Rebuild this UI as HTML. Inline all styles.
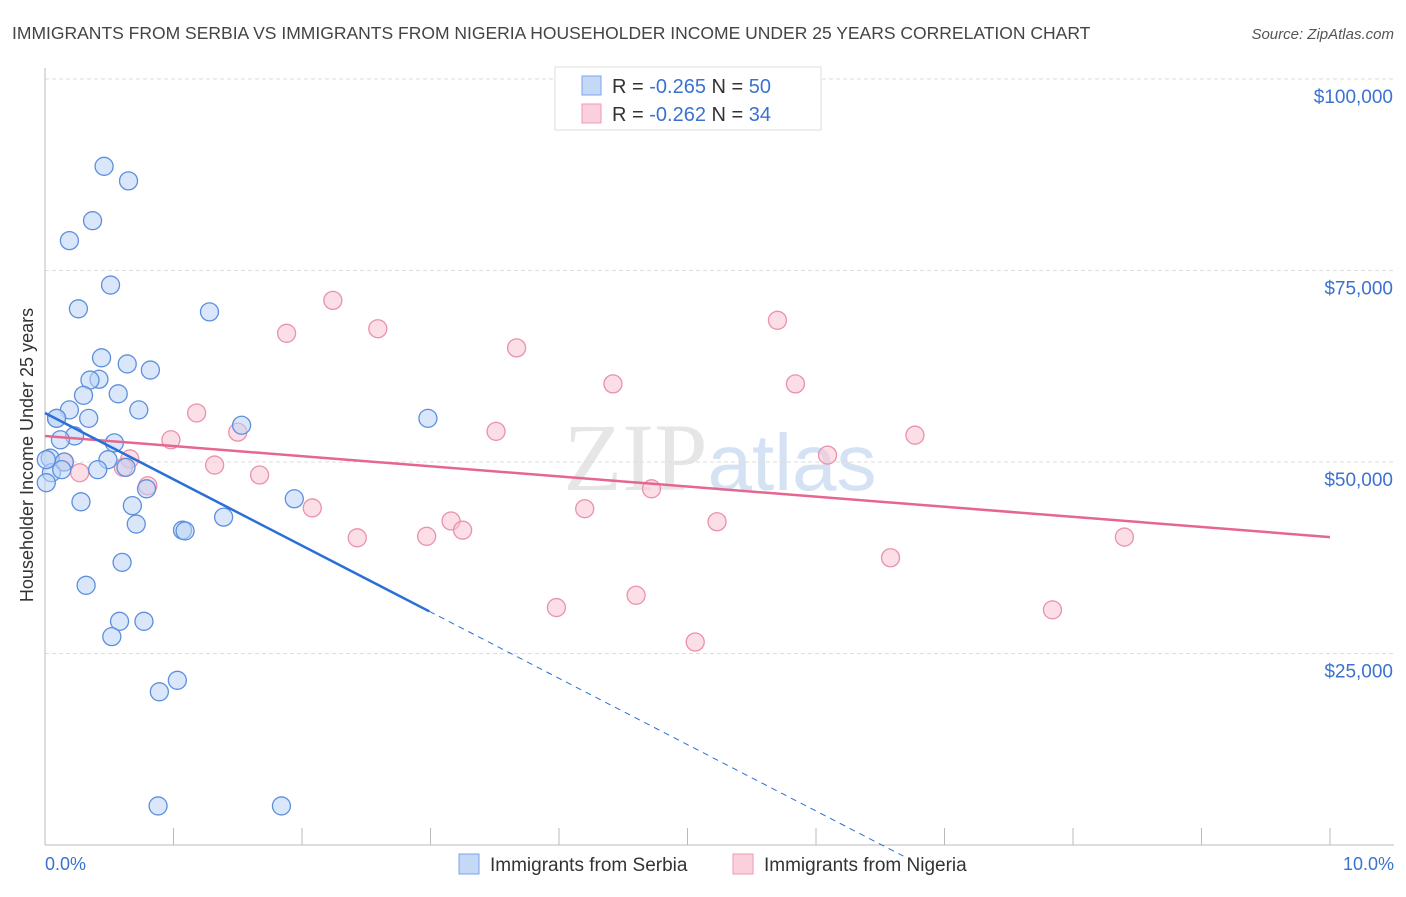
<!DOCTYPE html>
<html><head><meta charset="utf-8"><style>
body{margin:0;background:#fff;font-family:"Liberation Sans",sans-serif;}
</style></head><body>
<svg id="chart" width="1406" height="892" xmlns="http://www.w3.org/2000/svg" font-family="Liberation Sans, sans-serif">
<text x="12" y="39" font-size="17.5" fill="#444">IMMIGRANTS FROM SERBIA VS IMMIGRANTS FROM NIGERIA HOUSEHOLDER INCOME UNDER 25 YEARS CORRELATION CHART</text>
<text x="1394" y="39" font-size="15" fill="#555" font-style="italic" text-anchor="end">Source: ZipAtlas.com</text>
<text x="720" y="490" font-size="96" text-anchor="middle" fill="#e6e6e6" font-family="Liberation Serif, serif">ZIP<tspan fill="#d5e2f3" font-family="Liberation Sans, sans-serif" font-size="80">atlas</tspan></text>
<g id="grid"></g>
<g id="axes"></g>
<g id="marks"></g>
<text transform="translate(33,455) rotate(-90)" font-size="18" fill="#333" text-anchor="middle">Householder Income Under 25 years</text>
<text x="45" y="870" font-size="18" fill="#3b72d0">0.0%</text>
<text x="1394" y="870" font-size="18" fill="#3b72d0" text-anchor="end">10.0%</text>
<g>
<rect x="555" y="67" width="266" height="63" fill="#fff" stroke="#ddd"/>
<rect x="582" y="76" width="19" height="19" fill="#c5d9f7" stroke="#7aa4e8"/>
<rect x="582" y="104" width="19" height="19" fill="#fbd0dd" stroke="#ee9ab4"/>
<text x="612" y="93" font-size="20" fill="#333">R = <tspan fill="#3b72d0">-0.265</tspan>   N = <tspan fill="#3b72d0">50</tspan></text>
<text x="612" y="121" font-size="20" fill="#333">R = <tspan fill="#3b72d0">-0.262</tspan>   N = <tspan fill="#3b72d0">34</tspan></text>
</g>
<g>
<rect x="459" y="854" width="20" height="20" fill="#c5d9f7" stroke="#7aa4e8"/>
<text x="490" y="871" font-size="19" fill="#333">Immigrants from Serbia</text>
<rect x="733" y="854" width="20" height="20" fill="#fbd0dd" stroke="#ee9ab4"/>
<text x="764" y="871" font-size="19" fill="#333">Immigrants from Nigeria</text>
</g>
</svg>
<script>
const yTicks=[25000,50000,75000,100000];
const yTickLabels=["$25,000","$50,000","$75,000","$100,000"];
const xTicks=[0,1,2,3,4,5,6,7,8,9,10];
const serbiaX=[.46,.65,.37,.19,.51,.26,1.28,.44,.64,.82,.42,.35,.57,.30,.73,.19,.09,.34,1.53,2.98,.23,.12,.54,.04,.15,.49,.63,.41,.05,.01,.28,1.94,.68,.79,1.39,.71,1.07,1.09,.60,.32,.58,.77,.52,1.03,.89,.88,1.84,.13,.09,.01];
const serbiaY=[88.6,86.7,81.5,78.9,73.1,70.0,69.6,63.6,62.8,62.0,60.8,60.7,58.9,58.7,56.8,56.8,55.7,55.7,54.8,55.7,53.4,52.9,52.5,50.5,50.0,50.3,49.3,49.0,48.6,47.3,44.8,45.2,44.3,46.5,42.8,41.9,41.1,41.0,36.9,33.9,29.2,29.2,27.2,21.5,20.0,5.1,5.1,49.0,55.7,50.3];
const nigeriaX=[2.24,1.88,2.59,3.67,5.70,4.42,5.84,1.18,1.50,.98,3.51,6.77,6.09,.66,1.32,1.67,.80,.61,.15,.27,4.72,2.08,4.20,3.16,5.23,3.25,2.43,2.97,8.40,6.58,3.98,4.60,7.84,5.06];
const nigeriaY=[71.1,66.8,67.4,64.9,68.5,60.2,60.2,56.4,53.9,52.9,54.0,53.5,50.9,50.4,49.6,48.3,46.9,49.3,50.0,48.6,46.5,44.0,43.9,42.3,42.2,41.1,40.1,40.3,40.2,37.5,31.0,32.6,30.7,26.5];
const serbiaTrend=[56.4,-8.66];   // intercept (k$), slope per %
const serbiaTrendSolidEnd=2.99, serbiaTrendDashEnd=6.68;
const nigeriaTrend=[53.4,-1.32];
const NS="http://www.w3.org/2000/svg";
const X=v=>45+v*128.5;
const Y=v=>845-v/25000*191.5;
const Yk=v=>Y(v*1000);
function mk(tag,attrs,parent){const e=document.createElementNS(NS,tag);for(const k in attrs)e.setAttribute(k,attrs[k]);parent.appendChild(e);return e;}
const grid=document.getElementById('grid'),axes=document.getElementById('axes'),marks=document.getElementById('marks');
yTicks.forEach((t,i)=>{
 const l=mk('line',{x1:45,x2:1394,y1:Y(t),y2:Y(t),stroke:'#ddd','stroke-dasharray':'4,3'},grid);
 
 
 const tx=mk('text',{x:1393,y:Y(t)+24,'font-size':19,fill:'#3b72d0','text-anchor':'end'},axes);
 tx.textContent=yTickLabels[i];
 
 
});
const yl=mk('line',{x1:45,x2:45,y1:68,y2:845,stroke:'#bbb'},axes);


const xl=mk('line',{x1:45,x2:1394,y1:845,y2:845,stroke:'#bbb'},axes);


xTicks.forEach(t=>{
 const l=mk('line',{x1:X(t),x2:X(t),y1:828,y2:845,stroke:'#bbb'},axes);
 
 
});
function dots(xs,ys,fill,stroke,name){
 xs.forEach((x,i)=>{
  const c=mk('circle',{cx:X(x),cy:Yk(ys[i]),r:9,fill:fill,'fill-opacity':0.55,stroke:stroke,'stroke-width':1.3},marks);
  
  
 });
}
dots(nigeriaX,nigeriaY,'#f9c3d3','#e991ad','nigeria-point');
dots(serbiaX,serbiaY,'#bcd4f5','#5d8fdd','serbia-point');
const f=(tr,x)=>tr[0]+tr[1]*x;
const pl=mk('line',{x1:X(0),y1:Yk(f(nigeriaTrend,0)),x2:X(10),y2:Yk(f(nigeriaTrend,10)),stroke:'#e5668f','stroke-width':2.5},marks);


const bl=mk('line',{x1:X(0),y1:Yk(f(serbiaTrend,0)),x2:X(serbiaTrendSolidEnd),y2:Yk(f(serbiaTrend,serbiaTrendSolidEnd)),stroke:'#2a6fd6','stroke-width':2.5},marks);


const bd=mk('line',{x1:X(serbiaTrendSolidEnd),y1:Yk(f(serbiaTrend,serbiaTrendSolidEnd)),x2:X(serbiaTrendDashEnd),y2:Yk(f(serbiaTrend,serbiaTrendDashEnd)),stroke:'#2a6fd6','stroke-width':1,'stroke-dasharray':'6,5'},marks);


</script>
</body></html>
